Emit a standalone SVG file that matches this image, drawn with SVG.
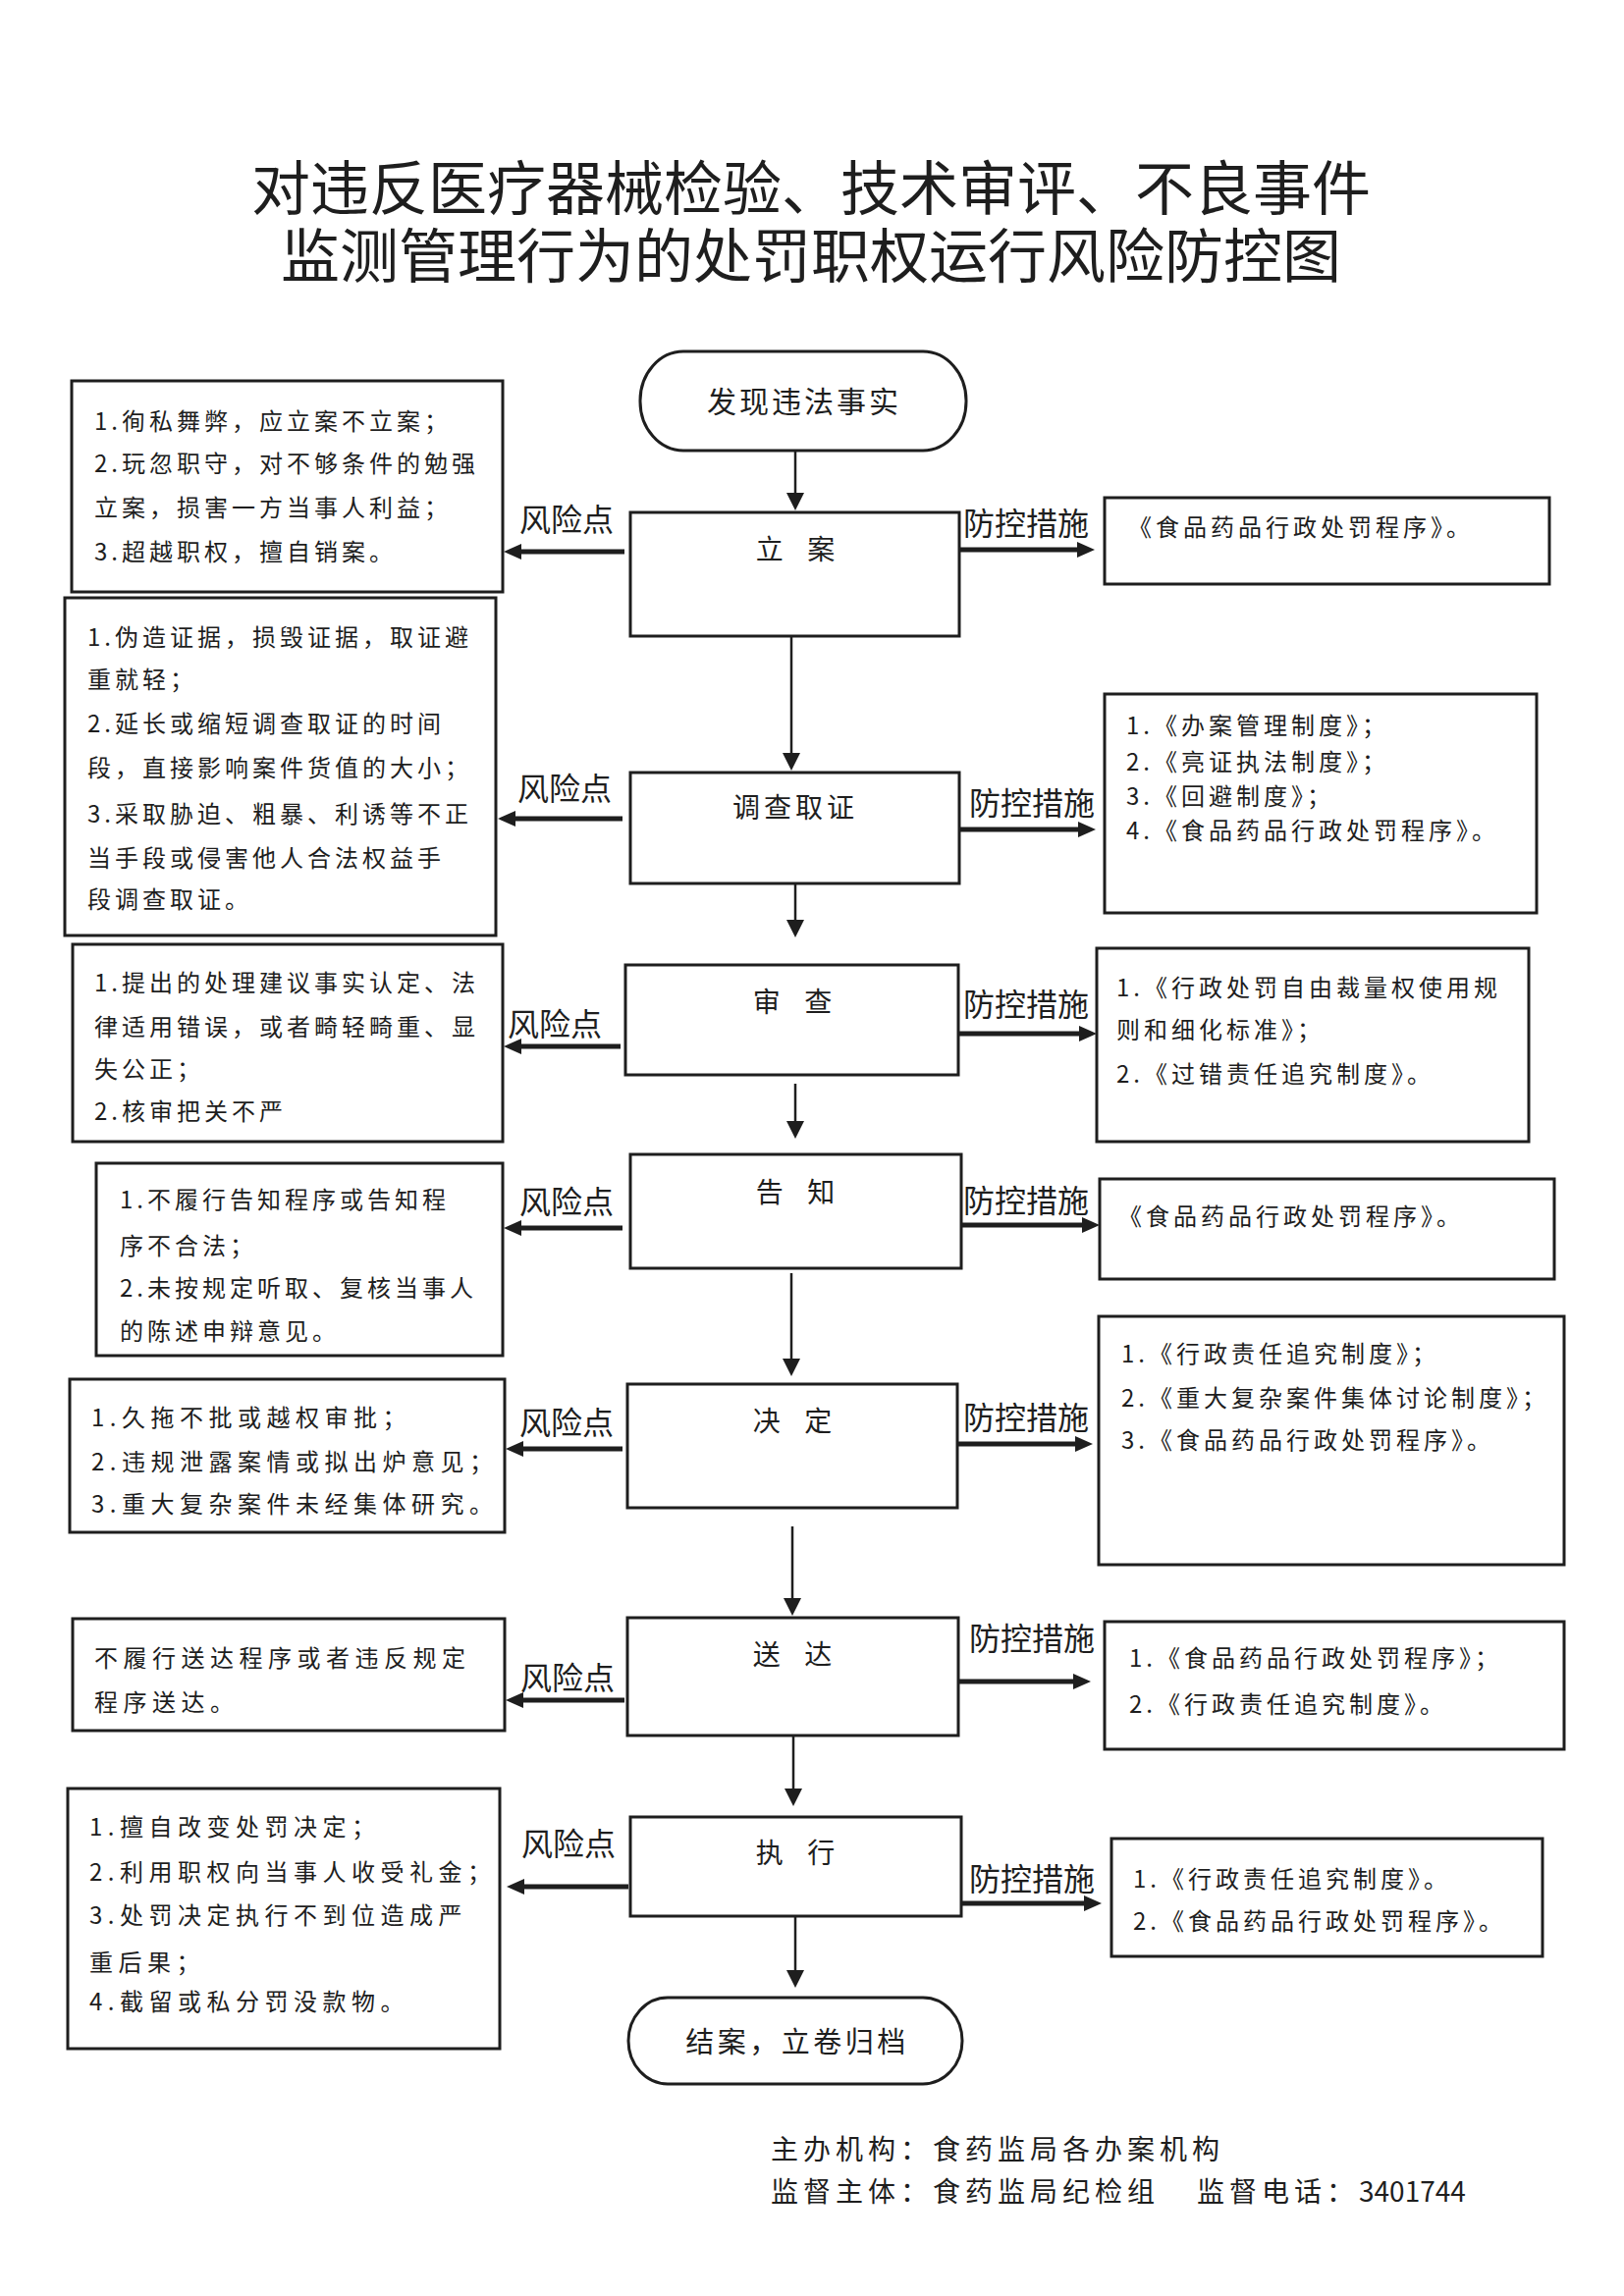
<svg xmlns="http://www.w3.org/2000/svg" width="1654" height="2339" viewBox="0 0 1654 2339">
<style>
text{font-family:"Noto Sans CJK SC","Noto Sans CJK JP",sans-serif;fill:#1e1e1e}
.bg{fill:#fff}
.box{fill:#fff;stroke:#1e1e1e;stroke-width:3}
.t{font-size:24px;letter-spacing:4px}
.tw{font-size:24px;letter-spacing:5.5px}
.lbl{font-size:32px}
.node{font-size:28px;letter-spacing:4px;word-spacing:10px;text-anchor:middle}
.title{font-size:60px;text-anchor:middle}
.foot{font-size:28px;letter-spacing:5px}
.thin{stroke:#1e1e1e;stroke-width:2.5;fill:none;marker-end:url(#ahThin)}
.thick{stroke:#1e1e1e;stroke-width:5;fill:none;marker-end:url(#ahThick)}
</style>
<defs>
<marker id="ahThin" markerUnits="userSpaceOnUse" markerWidth="18" markerHeight="18" refX="8" refY="9" orient="auto"><path d="M0,0 L18,9 L0,18 Z" fill="#1e1e1e"/></marker>
<marker id="ahThick" markerUnits="userSpaceOnUse" markerWidth="18" markerHeight="16" refX="8" refY="8" orient="auto"><path d="M0,0 L18,8 L0,16 Z" fill="#1e1e1e"/></marker>
</defs>
<rect class="bg" x="0" y="0" width="1654" height="2339"/>

<g id="title">
<text class="title" x="826" y="214">对违反医疗器械检验、技术审评、不良事件</text>
<text class="title" x="826" y="283">监测管理行为的处罚职权运行风险防控图</text>
</g>

<g id="n_start">
<rect class="box" x="652" y="358" width="332" height="101" rx="44" ry="50"/>
<text class="node" style="font-size:30px;letter-spacing:3px" x="819" y="420">发现违法事实</text>
</g>

<g id="n_lian">
<rect class="box" x="642" y="522" width="335" height="126"/>
<text class="node" x="812" y="570">立 案</text>
</g>
<g id="n_diaocha">
<rect class="box" x="642" y="787" width="335" height="113"/>
<text class="node" x="810" y="833">调查取证</text>
</g>
<g id="n_shencha">
<rect class="box" x="637" y="983" width="339" height="112"/>
<text class="node" x="809" y="1031">审 查</text>
</g>
<g id="n_gaozhi">
<rect class="box" x="642" y="1176" width="337" height="116"/>
<text class="node" x="812" y="1225">告 知</text>
</g>
<g id="n_jueding">
<rect class="box" x="639" y="1410" width="336" height="126"/>
<text class="node" x="809" y="1458">决 定</text>
</g>
<g id="n_songda">
<rect class="box" x="639" y="1648" width="337" height="120"/>
<text class="node" x="809" y="1696">送 达</text>
</g>
<g id="n_zhixing">
<rect class="box" x="642" y="1851" width="337" height="101"/>
<text class="node" x="812" y="1898">执 行</text>
</g>
<g id="n_end">
<rect class="box" x="640" y="2035" width="340" height="88" rx="40" ry="44"/>
<text class="node" style="font-size:29px;letter-spacing:3.5px" x="812" y="2091">结案，立卷归档</text>
</g>

<g id="risk1">
<rect class="box" x="73" y="388" width="439" height="215"/>
<text class="t" x="96" y="438">1.徇私舞弊，应立案不立案；</text>
<text class="t" x="96" y="481">2.玩忽职守，对不够条件的勉强</text>
<text class="t" x="96" y="526">立案，损害一方当事人利益；</text>
<text class="t" x="96" y="571">3.超越职权，擅自销案。</text>
</g>
<g id="risk2">
<rect class="box" x="66" y="609" width="439" height="344"/>
<text class="t" x="89" y="658">1.伪造证据，损毁证据，取证避</text>
<text class="t" x="89" y="701">重就轻；</text>
<text class="t" x="89" y="746">2.延长或缩短调查取证的时间</text>
<text class="t" x="89" y="791">段，直接影响案件货值的大小；</text>
<text class="t" x="89" y="838">3.采取胁迫、粗暴、利诱等不正</text>
<text class="t" x="89" y="883">当手段或侵害他人合法权益手</text>
<text class="t" x="89" y="925">段调查取证。</text>
</g>
<g id="risk3">
<rect class="box" x="74" y="962" width="438" height="201"/>
<text class="t" x="96" y="1010">1.提出的处理建议事实认定、法</text>
<text class="t" x="96" y="1055">律适用错误，或者畸轻畸重、显</text>
<text class="t" x="96" y="1098">失公正；</text>
<text class="t" x="96" y="1141">2.核审把关不严</text>
</g>
<g id="risk4">
<rect class="box" x="98" y="1185" width="414" height="196"/>
<text class="t" x="122" y="1231">1.不履行告知程序或告知程</text>
<text class="t" x="122" y="1278">序不合法；</text>
<text class="t" x="122" y="1321">2.未按规定听取、复核当事人</text>
<text class="t" x="122" y="1365">的陈述申辩意见。</text>
</g>
<g id="risk5">
<rect class="box" x="71" y="1405" width="443" height="156"/>
<text class="tw" x="93" y="1453">1.久拖不批或越权审批；</text>
<text class="tw" x="93" y="1498">2.违规泄露案情或拟出炉意见；</text>
<text class="tw" x="93" y="1541">3.重大复杂案件未经集体研究。</text>
</g>
<g id="risk6">
<rect class="box" x="74" y="1649" width="440" height="114"/>
<text class="tw" x="96" y="1698">不履行送达程序或者违反规定</text>
<text class="tw" x="96" y="1743">程序送达。</text>
</g>
<g id="risk7">
<rect class="box" x="69" y="1822" width="440" height="265"/>
<text class="tw" x="91" y="1870">1.擅自改变处罚决定；</text>
<text class="tw" x="91" y="1916">2.利用职权向当事人收受礼金；</text>
<text class="tw" x="91" y="1960">3.处罚决定执行不到位造成严</text>
<text class="tw" x="91" y="2008">重后果；</text>
<text class="tw" x="91" y="2048">4.截留或私分罚没款物。</text>
</g>

<g id="prev1">
<rect class="box" x="1125" y="507" width="453" height="88"/>
<text class="t" x="1149" y="546">《食品药品行政处罚程序》。</text>
</g>
<g id="prev2">
<rect class="box" x="1125" y="707" width="440" height="223"/>
<text class="t" x="1147" y="748">1.《办案管理制度》；</text>
<text class="t" x="1147" y="785">2.《亮证执法制度》；</text>
<text class="t" x="1147" y="820">3.《回避制度》；</text>
<text class="t" x="1147" y="855">4.《食品药品行政处罚程序》。</text>
</g>
<g id="prev3">
<rect class="box" x="1117" y="966" width="440" height="197"/>
<text class="t" x="1137" y="1015">1.《行政处罚自由裁量权使用规</text>
<text class="t" x="1137" y="1058">则和细化标准》；</text>
<text class="t" x="1137" y="1103">2.《过错责任追究制度》。</text>
</g>
<g id="prev4">
<rect class="box" x="1120" y="1201" width="463" height="102"/>
<text class="t" x="1139" y="1248">《食品药品行政处罚程序》。</text>
</g>
<g id="prev5">
<rect class="box" x="1119" y="1341" width="474" height="253"/>
<text class="t" x="1142" y="1388">1.《行政责任追究制度》；</text>
<text class="t" x="1142" y="1433">2.《重大复杂案件集体讨论制度》；</text>
<text class="t" x="1142" y="1476">3.《食品药品行政处罚程序》。</text>
</g>
<g id="prev6">
<rect class="box" x="1125" y="1652" width="468" height="130"/>
<text class="t" x="1150" y="1698">1.《食品药品行政处罚程序》；</text>
<text class="t" x="1150" y="1745">2.《行政责任追究制度》。</text>
</g>
<g id="prev7">
<rect class="box" x="1132" y="1873" width="439" height="120"/>
<text class="t" x="1154" y="1923">1.《行政责任追究制度》。</text>
<text class="t" x="1154" y="1966">2.《食品药品行政处罚程序》。</text>
</g>

<g id="connectors">
<line class="thin" x1="810" y1="459" x2="810" y2="510"/>
<line class="thin" x1="806" y1="648" x2="806" y2="775"/>
<line class="thin" x1="810" y1="900" x2="810" y2="945"/>
<line class="thin" x1="810" y1="1104" x2="810" y2="1150"/>
<line class="thin" x1="806" y1="1297" x2="806" y2="1392"/>
<line class="thin" x1="807" y1="1555" x2="807" y2="1636"/>
<line class="thin" x1="808" y1="1768" x2="808" y2="1830"/>
<line class="thin" x1="810" y1="1952" x2="810" y2="2015"/>

<line class="thick" x1="636" y1="562" x2="523" y2="562"/>
<line class="thick" x1="634" y1="834" x2="517" y2="834"/>
<line class="thick" x1="632" y1="1066" x2="523" y2="1066"/>
<line class="thick" x1="634" y1="1251" x2="523" y2="1251"/>
<line class="thick" x1="634" y1="1476" x2="525" y2="1476"/>
<line class="thick" x1="636" y1="1732" x2="525" y2="1732"/>
<line class="thick" x1="640" y1="1922" x2="526" y2="1922"/>

<line class="thick" x1="977" y1="560" x2="1105" y2="560"/>
<line class="thick" x1="977" y1="845" x2="1106" y2="845"/>
<line class="thick" x1="976" y1="1053" x2="1107" y2="1053"/>
<line class="thick" x1="979" y1="1248" x2="1110" y2="1248"/>
<line class="thick" x1="975" y1="1471" x2="1103" y2="1471"/>
<line class="thick" x1="976" y1="1713" x2="1101" y2="1713"/>
<line class="thick" x1="979" y1="1939" x2="1112" y2="1939"/>

<text class="lbl" x="529" y="541">风险点</text>
<text class="lbl" x="527" y="815">风险点</text>
<text class="lbl" x="517" y="1055">风险点</text>
<text class="lbl" x="529" y="1236">风险点</text>
<text class="lbl" x="529" y="1461">风险点</text>
<text class="lbl" x="530" y="1721">风险点</text>
<text class="lbl" x="531" y="1890">风险点</text>

<text class="lbl" x="981" y="545">防控措施</text>
<text class="lbl" x="987" y="830">防控措施</text>
<text class="lbl" x="981" y="1035">防控措施</text>
<text class="lbl" x="981" y="1235">防控措施</text>
<text class="lbl" x="981" y="1456">防控措施</text>
<text class="lbl" x="987" y="1681">防控措施</text>
<text class="lbl" x="987" y="1926">防控措施</text>
</g>

<g id="footer">
<text class="foot" x="785" y="2200">主办机构：食药监局各办案机构</text>
<text class="foot" x="785" y="2243">监督主体：食药监局纪检组</text>
<text class="foot" x="1219" y="2243">监督电话：<tspan style="letter-spacing:0">3401744</tspan></text>
</g>
</svg>
